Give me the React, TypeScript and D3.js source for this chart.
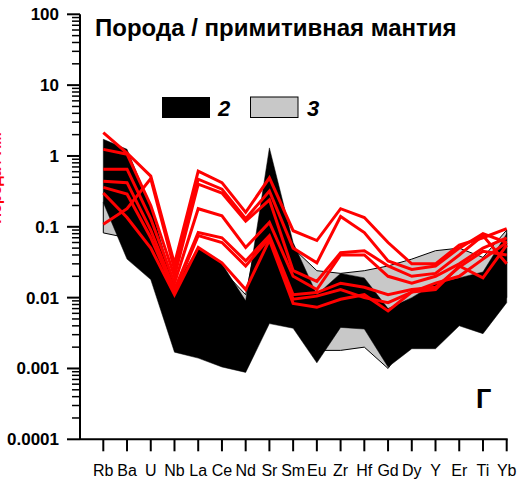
import React from "react";
import * as d3 from "d3";

const elements = ["Rb","Ba","U","Nb","La","Ce","Nd","Sr","Sm","Eu","Zr","Hf","Gd","Dy","Y","Er","Ti","Yb"];
const yTickValues = [100, 10, 1, 0.1, 0.01, 0.001, 0.0001];
const yTickLabels = ["100", "10", "1", "0.1", "0.01", "0.001", "0.0001"];

const field2Upper = [1.72, 1.24, 0.19, 0.014, 0.051, 0.03, 0.009, 1.3, 0.06, 0.011, 0.022, 0.019, 0.007, 0.01, 0.016, 0.019, 0.023, 0.08];
const field2Lower = [0.22, 0.035, 0.018, 0.0017, 0.0014, 0.00105, 0.00088, 0.0043, 0.0037, 0.0012, 0.0038, 0.0036, 0.00105, 0.0019, 0.0019, 0.004, 0.0031, 0.0085];
const field3Upper = [0.22, 0.5, 0.15, 0.012, 0.04, 0.025, 0.011, 0.5, 0.05, 0.024, 0.022, 0.024, 0.028, 0.035, 0.046, 0.05, 0.037, 0.09];
const field3Lower = [0.082, 0.07, 0.03, 0.004, 0.003, 0.003, 0.002, 0.008, 0.006, 0.0018, 0.0018, 0.002, 0.001, 0.003, 0.003, 0.005, 0.005, 0.01];

const sample1 = [2.13, 1.1, 0.52, 0.03, 0.61, 0.42, 0.16, 0.49, 0.088, 0.064, 0.18, 0.135, 0.06, 0.03, 0.03, 0.055, 0.07, 0.094];
const sample2 = [0.109, 0.18, 0.48, 0.025, 0.47, 0.34, 0.13, 0.32, 0.05, 0.031, 0.14, 0.083, 0.033, 0.025, 0.028, 0.05, 0.08, 0.06];
const sample3 = [1.24, 1.06, 0.2, 0.02, 0.4, 0.3, 0.12, 0.24, 0.024, 0.017, 0.043, 0.046, 0.028, 0.02, 0.022, 0.04, 0.075, 0.03];
const sample4 = [0.65, 0.65, 0.13, 0.016, 0.18, 0.143, 0.051, 0.115, 0.02, 0.013, 0.04, 0.04, 0.02, 0.016, 0.02, 0.03, 0.05, 0.07];
const sample5 = [0.44, 0.42, 0.09, 0.013, 0.083, 0.07, 0.033, 0.075, 0.011, 0.0118, 0.016, 0.014, 0.011, 0.013, 0.014, 0.027, 0.045, 0.04];
const sample6 = [0.36, 0.29, 0.07, 0.012, 0.075, 0.06, 0.028, 0.07, 0.0095, 0.0105, 0.013, 0.01, 0.0085, 0.012, 0.016, 0.02, 0.035, 0.06];
const sample7 = [0.30, 0.135, 0.05, 0.011, 0.051, 0.031, 0.013, 0.065, 0.0083, 0.0073, 0.0095, 0.011, 0.0065, 0.012, 0.013, 0.028, 0.019, 0.055];
const samples = [sample1, sample2, sample3, sample4, sample5, sample6, sample7];

const minorTicks: number[] = [];
for (let e = -4; e < 2; e++) for (let m = 2; m <= 9; m++) minorTicks.push(m * Math.pow(10, e));

export default function App() {
  const x = d3.scalePoint<string>().domain(elements).range([103.3, 506.7]);
  const y = d3.scaleLog().domain([0.0001, 100]).range([439.3, 14.3]);
  const band = (upper: number[], lower: number[]) =>
    d3.area<number>()
      .x((_, i) => x(elements[i])!)
      .y0((_, i) => y(lower[i]))
      .y1((_, i) => y(upper[i]))(upper) || "";
  const line = d3.line<number>().x((_, i) => x(elements[i])!).y((d) => y(d));
  const axisX = 80;
  const axisY = 439.3;
  return (
    <svg width={520} height={484} style={{ position: "absolute", left: 0, top: 0, background: "#fff" }}
      fontFamily="Liberation Sans, Arial, sans-serif">
      <path d={band(field3Upper, field3Lower)} fill="#c8c8c8" stroke="#000" strokeWidth={1} />
      <path d={band(field2Upper, field2Lower)} fill="#000" stroke="#000" strokeWidth={0.5} />
      {samples.map((s, i) => (
        <path key={i} d={line(s) || ""} fill="none" stroke="#ff0000" strokeWidth={3} strokeLinejoin="miter" />
      ))}
      {/* y axis */}
      <line x1={axisX} x2={axisX} y1={y(100)} y2={axisY} stroke="#000" strokeWidth={2} />
      {minorTicks.map((v, i) => (
        <line key={"m" + i} x1={axisX - 8} x2={axisX} y1={y(v)} y2={y(v)} stroke="#000" strokeWidth={1.5} />
      ))}
      {yTickValues.map((v, i) => (
        <g key={"t" + i}>
          <line x1={axisX - 13} x2={axisX} y1={y(v)} y2={y(v)} stroke="#000" strokeWidth={2} />
          <text x={59} y={y(v) + 6} textAnchor="end" fontSize={17} fontWeight="bold">{yTickLabels[i]}</text>
        </g>
      ))}
      {/* x axis */}
      <line x1={axisX} x2={x("Yb")! + 1} y1={axisY} y2={axisY} stroke="#000" strokeWidth={2} />
      {elements.map((el) => (
        <g key={el}>
          <line x1={x(el)} x2={x(el)} y1={axisY} y2={axisY + 12} stroke="#000" strokeWidth={2} />
          <text x={x(el)} y={476} textAnchor="middle" fontSize={16}>{el}</text>
        </g>
      ))}
      <text x={95} y={36} fontSize={24} fontWeight="bold">Порода / примитивная мантия</text>
      <rect x={162} y={97} width={48} height={21} fill="#000" />
      <text x={218} y={116} fontSize={22} fontWeight="bold" fontStyle="italic">2</text>
      <rect x={250.5} y={97} width={47.5} height={20.5} fill="#c8c8c8" stroke="#000" strokeWidth={1} />
      <text x={307} y={116} fontSize={22} fontWeight="bold" fontStyle="italic">3</text>
      <text x={476} y={408} fontSize={27} fontWeight="bold">Г</text>
      <text transform="translate(1,178) rotate(-90)" textAnchor="middle" fontSize={15} fontWeight="bold" fill="#ff0000">Порода / ПМ</text>
    </svg>
  );
}
